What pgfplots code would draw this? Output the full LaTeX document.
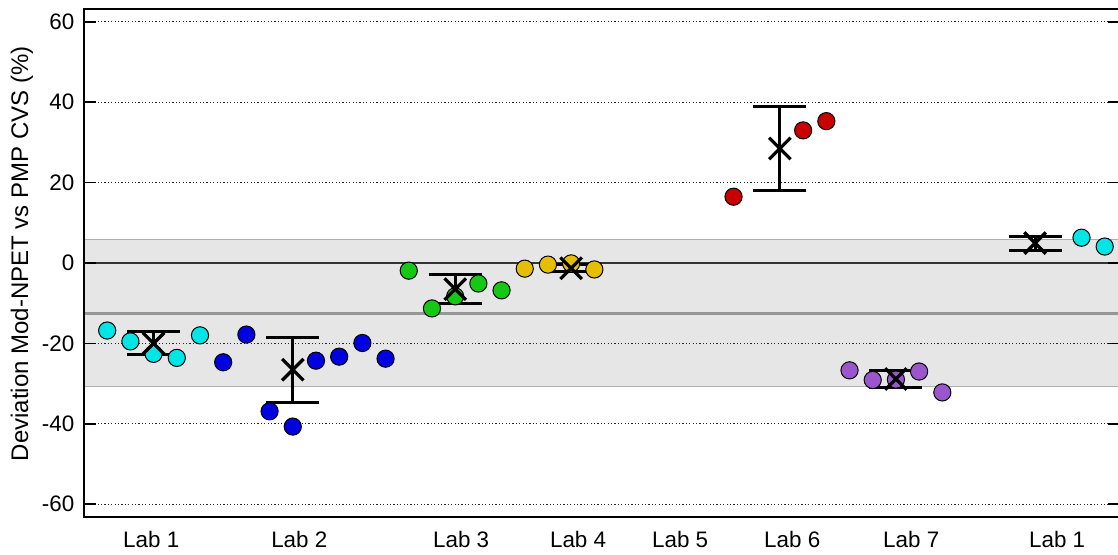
\documentclass[border=0pt]{standalone}
\usepackage{pgfplots}
\pgfplotsset{compat=1.18}
\usepackage{fontspec}
\setmainfont{Liberation Sans}

\definecolor{labcyan}{RGB}{0,229,229}
\definecolor{labblue}{RGB}{0,0,225}
\definecolor{labgreen}{RGB}{20,200,20}
\definecolor{labgold}{RGB}{230,190,0}
\definecolor{labred}{RGB}{200,0,0}
\definecolor{labpurple}{RGB}{155,85,205}
\definecolor{bandfill}{RGB}{230,230,230}
\definecolor{bandline}{RGB}{175,175,175}
\definecolor{meanline}{RGB}{150,150,150}

% mean and SD per lab (x = sample index)
\pgfplotstableread{
x   y       e
3   -20.0   2.85
9   -26.55  8.05
16  -6.5    3.6
21  -1.3    0.9
30  28.5    10.4
35  -28.85  2.15
41  4.95    1.75
}\labstats

\begin{document}
\begin{tikzpicture}
\begin{axis}[
    at={(0,0)}, anchor=south west,
    scale only axis,
    width=518pt, height=254pt,
    xmin=0, xmax=44.66,
    ymin=-63.2, ymax=63.2,
    set layers,
    font=\fontsize{11.2}{13}\selectfont,
    /pgf/number format/assume math mode=true,
    axis line style={line width=0.8pt, black},
    ytick={-60,-40,-20,0,20,40,60},
    tick align=inside,
    major tick length=6pt,
    ytick style={line width=0.8pt, black},
    xtick={2.9,9.28,16.26,21.3,25.7,30.53,35.66,41.95},
    xticklabels={Lab 1,Lab 2,Lab 3,Lab 4,Lab 5,Lab 6,Lab 7,Lab 1},
    xtick style={draw=none},
    xticklabel style={yshift=-3.8pt},
    yticklabel style={xshift=-1.3pt},
    ymajorgrids,
    grid style={black!85, line width=0.5pt, dash pattern=on 0.6pt off 1.1pt},
    extra y ticks={0},
    extra y tick labels={},
    extra y tick style={grid style={solid, black!80, line width=0.8pt}},
    ylabel={Deviation Mod-NPET vs PMP CVS (\%)},
    ylabel style={at={(axis description cs:-0.0599,0.518)}, anchor=center, font=\fontsize{12}{14}\selectfont},
]
% reference band: mean -12.5, limits 5.85 and -30.8 (drawn as a wide line)
\addplot[on layer=axis background, bandfill, line width=73.65pt]
    coordinates {(0,-12.475) (44.66,-12.475)};
\addplot[on layer=axis background, bandline, line width=0.6pt]
    coordinates {(0,5.85) (44.66,5.85)};
\addplot[on layer=axis background, bandline, line width=0.6pt]
    coordinates {(0,-30.8) (44.66,-30.8)};
\addplot[on layer=axis background, meanline, line width=1.3pt]
    coordinates {(0,-12.5) (44.66,-12.5)};

% individual results
\addplot[only marks, mark=*, mark size=4.3pt, mark options={fill=labcyan, draw=black, line width=0.5pt}]
    coordinates {(1,-16.8) (2,-19.5) (3,-22.6) (4,-23.6) (5,-18.0)};
\addplot[only marks, mark=*, mark size=4.3pt, mark options={fill=labblue, draw=black, line width=0.5pt}]
    coordinates {(6,-24.7) (7,-17.8) (8,-36.9) (9,-40.7) (10,-24.3) (11,-23.3) (12,-19.9) (13,-23.8)};
\addplot[only marks, mark=*, mark size=4.3pt, mark options={fill=labgreen, draw=black, line width=0.5pt}]
    coordinates {(14,-1.9) (15,-11.3) (16,-8.3) (17,-5.1) (18,-6.8)};
\addplot[only marks, mark=*, mark size=4.3pt, mark options={fill=labgold, draw=black, line width=0.5pt}]
    coordinates {(19,-1.4) (20,-0.4) (21,-0.1) (22,-1.6)};
\addplot[only marks, mark=*, mark size=4.3pt, mark options={fill=labred, draw=black, line width=0.5pt}]
    coordinates {(28,16.5) (31,33.0) (32,35.3)};
\addplot[only marks, mark=*, mark size=4.3pt, mark options={fill=labpurple, draw=black, line width=0.5pt}]
    coordinates {(33,-26.7) (34,-29.1) (35,-29.0) (36,-27.0) (37,-32.2)};
\addplot[only marks, mark=*, mark size=4.3pt, mark options={fill=labcyan, draw=black, line width=0.5pt}]
    coordinates {(43,6.3) (44,4.1)};

% mean with SD
\addplot[only marks, black, mark=x, mark size=7.6pt, mark options={line width=1.6pt},
    error bars/.cd, y dir=both, y explicit,
    error bar style={line width=1.5pt, black},
    error mark options={rotate=90, line width=1.5pt, mark size=13.25pt, black}]
    table[x=x, y=y, y error=e] {\labstats};
\end{axis}
\pgfresetboundingbox
\useasboundingbox (-42pt,-18.5pt) rectangle (517pt,258.5pt);
\end{tikzpicture}
\end{document}
